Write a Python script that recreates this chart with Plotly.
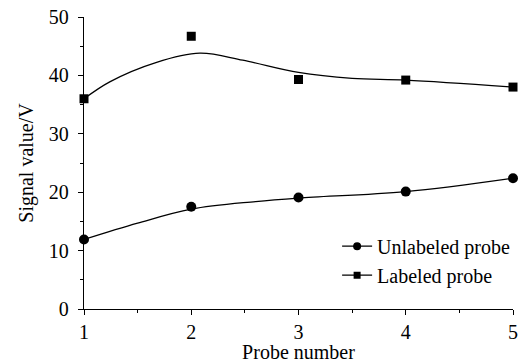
import plotly.graph_objects as go

# Measured points
probe = [1, 2, 3, 4, 5]
unlabeled = [11.9, 17.5, 19.1, 20.1, 22.4]
labeled = [36.0, 46.7, 39.3, 39.2, 38.0]

# Fitted curves
unl_curve_x = [1, 1.5, 2, 2.6, 3, 4, 5]
unl_curve_y = [11.9, 14.7, 17.1, 18.4, 19.0, 20.1, 22.4]
lab_curve_x = [1, 1.24, 1.67, 2.08, 2.48, 3.0, 3.5, 4, 5]
lab_curve_y = [36.0, 38.9, 42.2, 43.8, 42.6, 40.5, 39.5, 39.2, 38.0]

FONT = "Liberation Serif"
fig = go.Figure()

fig.add_trace(go.Scatter(x=unl_curve_x, y=unl_curve_y, mode="lines",
                         line=dict(color="black", width=1.3, shape="spline"),
                         showlegend=False, hoverinfo="skip"))
fig.add_trace(go.Scatter(x=lab_curve_x, y=lab_curve_y, mode="lines",
                         line=dict(color="black", width=1.3, shape="spline"),
                         showlegend=False, hoverinfo="skip"))
fig.add_trace(go.Scatter(x=probe, y=unlabeled, mode="markers",
                         marker=dict(symbol="circle", size=10, color="black"),
                         showlegend=False, cliponaxis=False))
fig.add_trace(go.Scatter(x=probe, y=labeled, mode="markers",
                         marker=dict(symbol="square", size=9, color="black"),
                         showlegend=False, cliponaxis=False))

# legend entries
fig.add_trace(go.Scatter(x=[None], y=[None], mode="lines+markers", name="Unlabeled probe",
                         line=dict(color="black", width=1.3),
                         marker=dict(symbol="circle", size=8, color="black")))
fig.add_trace(go.Scatter(x=[None], y=[None], mode="lines+markers", name="Labeled probe",
                         line=dict(color="black", width=1.3),
                         marker=dict(symbol="square", size=7, color="black")))

fig.update_layout(
    width=521, height=363,
    margin=dict(l=84, r=6, t=17, b=54),
    paper_bgcolor="white", plot_bgcolor="white",
    font=dict(family=FONT, size=20, color="black"),
    legend=dict(x=0.59, y=0.282, xanchor="left", yanchor="top",
                bgcolor="rgba(0,0,0,0)", font=dict(family=FONT, size=20),
                tracegroupgap=0, itemsizing="trace"),
    showlegend=True,
)
fig.update_xaxes(
    range=[1, 5], tickvals=probe, ticktext=[str(p) for p in probe],
    showline=True, linecolor="black", linewidth=1.3, showgrid=False, zeroline=False,
    ticks="outside", ticklen=5, tickcolor="black", tickwidth=1.2, automargin=False,
    minor=dict(ticks="outside", ticklen=3, dtick=0.5, tickcolor="black", tickwidth=1),
    title=dict(text="Probe number", standoff=5, font=dict(size=20)),
    tickfont=dict(size=20),
)
fig.update_yaxes(
    range=[0, 50], dtick=10,
    showline=True, linecolor="black", linewidth=1.3, showgrid=False, zeroline=False,
    ticks="outside", ticklen=5, tickcolor="black", tickwidth=1.2, automargin=False,
    ticklabelstandoff=5,
    minor=dict(ticks="outside", ticklen=3, dtick=5, tickcolor="black", tickwidth=1),
    title=dict(text="Signal value/V", standoff=9, font=dict(size=20)),
    tickfont=dict(size=20),
)

fig.write_html("out.html")
